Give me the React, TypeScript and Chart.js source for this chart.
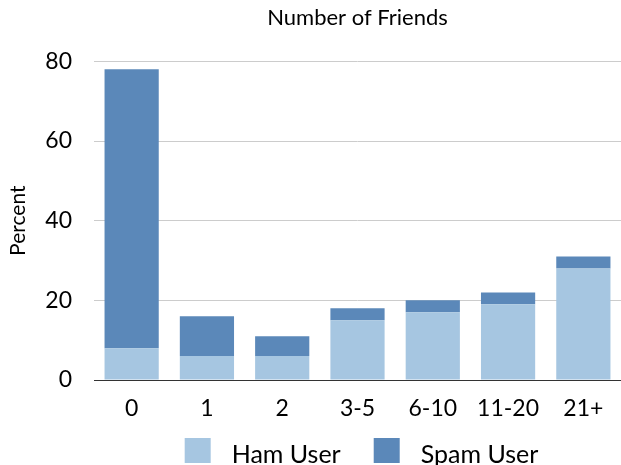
import { useEffect, useRef } from 'react';
import { Chart, registerables } from 'chart.js';

Chart.register(...registerables);

// Share of users by number of friends, stacked: ham users below, spam users on top
const categories = ['0', '1', '2', '3-5', '6-10', '11-20', '21+'];
const hamUser = [8, 6, 6, 15, 17, 19, 28];
const spamUser = [70, 10, 5, 3, 3, 3, 3];
const yMin = 0;
const yMax = 80;
const yStep = 20;

const HAM_COLOR = '#A6C6E1';
const SPAM_COLOR = '#5B88B9';
const FONT = 'Lato, "DejaVu Sans", sans-serif';

// Legend drawn under the x labels: square swatch, wide gap, label
const bottomLegend = {
  id: 'bottomLegend',
  afterDraw(chart: any) {
    const ctx = chart.ctx as CanvasRenderingContext2D;
    const items = chart.data.datasets.map((ds: any) => ({
      label: ds.label as string,
      color: ds.backgroundColor as string,
    }));
    ctx.save();
    ctx.font = `25px ${FONT}`;
    const boxW = 26;
    const boxH = 25;
    const gap = 21;
    const itemGap = 33;
    const widths = items.map((it: any) => boxW + gap + ctx.measureText(it.label).width);
    const total = widths.reduce((a: number, b: number) => a + b, 0) + itemGap * (items.length - 1);
    const { left, right } = chart.chartArea;
    let x = (left + right) / 2 + 4 - total / 2;
    const baseline = chart.height - 2;
    items.forEach((it: any, i: number) => {
      ctx.fillStyle = it.color;
      ctx.fillRect(x, baseline - boxH, boxW, boxH);
      ctx.fillStyle = '#000';
      ctx.textBaseline = 'alphabetic';
      ctx.textAlign = 'left';
      ctx.fillText(it.label, x + boxW + gap, baseline);
      x += widths[i] + itemGap;
    });
    ctx.restore();
  },
};

export default function App() {
  const canvasRef = useRef<HTMLCanvasElement | null>(null);

  useEffect(() => {
    if (!canvasRef.current) return;
    const chart = new Chart(canvasRef.current, {
      type: 'bar',
      data: {
        labels: categories,
        datasets: [
          { label: 'Ham User', data: hamUser, backgroundColor: HAM_COLOR, borderWidth: 0 },
          { label: 'Spam User', data: spamUser, backgroundColor: SPAM_COLOR, borderWidth: 0 },
        ],
      },
      options: {
        animation: false,
        responsive: true,
        maintainAspectRatio: false,
        color: '#000',
        layout: { padding: { left: 0, right: 0, top: 0, bottom: 37 } },
        datasets: {
          bar: { barPercentage: 0.72, categoryPercentage: 1 },
        },
        plugins: {
          legend: { display: false },
          tooltip: { enabled: false },
          title: {
            display: true,
            text: 'Number of Friends',
            fullSize: false,
            color: '#000',
            font: { family: FONT, size: 22, weight: 'normal' },
            padding: { top: 5, bottom: 30 },
          },
        },
        scales: {
          x: {
            stacked: true,
            grid: { display: false, drawTicks: false },
            border: { display: true, color: '#333333', width: 1 },
            ticks: { color: '#000', padding: 15, font: { family: FONT, size: 23 } },
            afterFit(scale: any) {
              scale.height = 48;
            },
          },
          y: {
            stacked: true,
            min: yMin,
            max: yMax,
            grid: { color: '#CCCCCC', lineWidth: 1, drawTicks: false },
            border: { display: false },
            ticks: {
              stepSize: yStep,
              color: '#000',
              padding: 22,
              font: { family: FONT, size: 23 },
            },
            title: {
              display: true,
              text: 'Percent',
              color: '#000',
              font: { family: FONT, size: 21, weight: 'normal' },
              padding: { top: 6, bottom: 0 },
            },
            afterFit(scale: any) {
              scale.width = 94;
            },
          },
        },
      },
      plugins: [bottomLegend],
    });
    return () => chart.destroy();
  }, []);

  return (
    <div style={{ position: 'fixed', left: 0, top: 0, width: 621, height: 465, background: '#fff' }}>
      <canvas ref={canvasRef} />
    </div>
  );
}
